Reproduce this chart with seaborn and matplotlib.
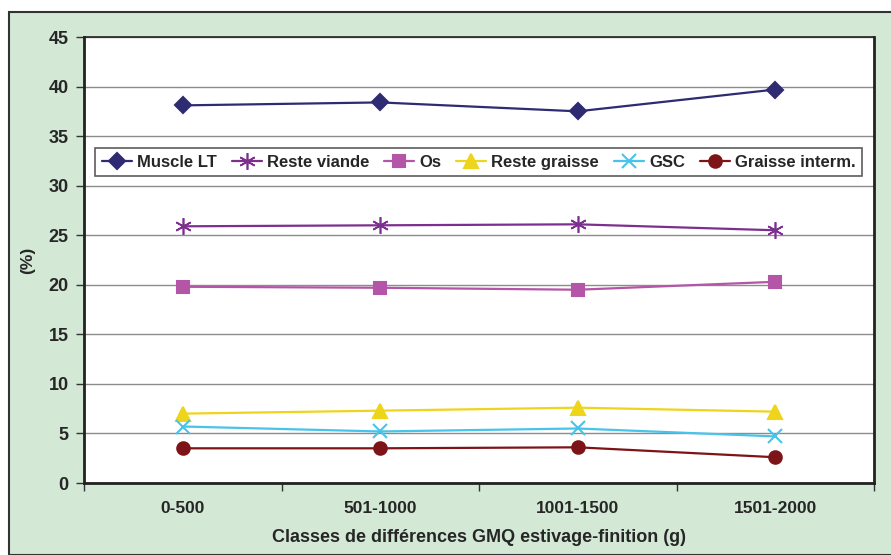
import numpy as np
import pandas as pd
import seaborn as sns
import matplotlib.pyplot as plt
from matplotlib.patches import Rectangle

classes = ['0-500', '501-1000', '1001-1500', '1501-2000']
muscle_lt = [38.1, 38.4, 37.5, 39.7]
reste_viande = [25.9, 26.0, 26.1, 25.5]
os_ = [19.8, 19.7, 19.5, 20.3]
reste_graisse = [7.0, 7.3, 7.6, 7.2]
gsc = [5.7, 5.2, 5.5, 4.7]
graisse_interm = [3.5, 3.5, 3.6, 2.6]

series = ['Muscle LT', 'Reste viande', 'Os', 'Reste graisse', 'GSC', 'Graisse interm.']
values = [muscle_lt, reste_viande, os_, reste_graisse, gsc, graisse_interm]
colors = ['#2E2B72', '#7D2F8F', '#B455A7', '#EED51C', '#48C4EA', '#7C1418']
markers = ['D', (6, 2, 0), 's', '^', 'x', 'o']
msizes = [8, 12, 8, 10, 10, 9]

df = pd.DataFrame({
    'classe': classes * len(series),
    'serie': np.repeat(series, len(classes)),
    'pct': np.concatenate(values),
})

sns.set_style('white')
plt.rcParams['font.family'] = ['Liberation Sans', 'DejaVu Sans']
plt.rcParams['font.weight'] = 'bold'

fig = plt.figure(figsize=(8.91, 5.55), dpi=100)
fig.patch.set_facecolor('white')
fig.patches.append(Rectangle((9 / 891, 0), 1.0, 1 - 12 / 555, transform=fig.transFigure,
                             facecolor='#D3E8D5', edgecolor='#333333', linewidth=1.5, zorder=-5))

ax = fig.add_axes([84 / 891, 1 - 483 / 555, 790 / 891, 446 / 555])
ax.set_zorder(1)
ax.set_facecolor('white')

for s, c, m, ms in zip(series, colors, markers, msizes):
    sub = df[df['serie'] == s]
    lw_m = 1.2 if m == (6, 2, 0) else 1.5
    sns.lineplot(data=sub, x='classe', y='pct', color=c, marker=m, markersize=ms,
                 markeredgecolor=c, markeredgewidth=lw_m, linewidth=1.6, label=s, ax=ax)

ax.set_xlim(-0.5, 3.5)
ax.set_ylim(0, 45)
ax.set_yticks(np.arange(0, 46, 5))
ax.yaxis.grid(True, color='#8C8C8C', linewidth=1)
ax.set_axisbelow(True)
ax.set_xticks(range(4))
ax.set_xticklabels(classes, fontsize=12.5, fontweight='bold')
ax.set_xticks(np.arange(-0.5, 4, 1), minor=True)
ax.tick_params(axis='x', which='major', bottom=False, length=0, pad=13)
ax.tick_params(axis='x', which='minor', bottom=True, length=6, width=1, color='#333333', direction='out')
ax.tick_params(axis='y', left=True, length=6, width=1, color='#333333', direction='out', labelsize=13, pad=5)
for lbl in ax.get_yticklabels():
    lbl.set_fontweight('bold')

for side in ['left', 'bottom', 'top', 'right']:
    ax.spines[side].set_color('#222222')
ax.spines['left'].set_linewidth(2)
ax.spines['bottom'].set_linewidth(2)
ax.spines['right'].set_linewidth(2)
ax.spines['top'].set_linewidth(1.2)

ax.set_xlabel('Classes de différences GMQ estivage-finition (g)', fontsize=13, fontweight='bold', labelpad=9)
ax.set_ylabel('(%)', fontsize=12.5, fontweight='bold', labelpad=10)

leg = ax.legend(loc='upper left', bbox_to_anchor=(0.014, 0.0, 0.971, 0.751), mode='expand',
                ncol=6, frameon=True, fancybox=False, edgecolor='#333333', fontsize=12,
                handlelength=1.8, handletextpad=0.3, columnspacing=0.3, borderpad=0.4,
                borderaxespad=0)
leg.get_frame().set_linewidth(1.2)
for t in leg.get_texts():
    t.set_fontweight('bold')

plt.savefig('out.png', dpi=100)
